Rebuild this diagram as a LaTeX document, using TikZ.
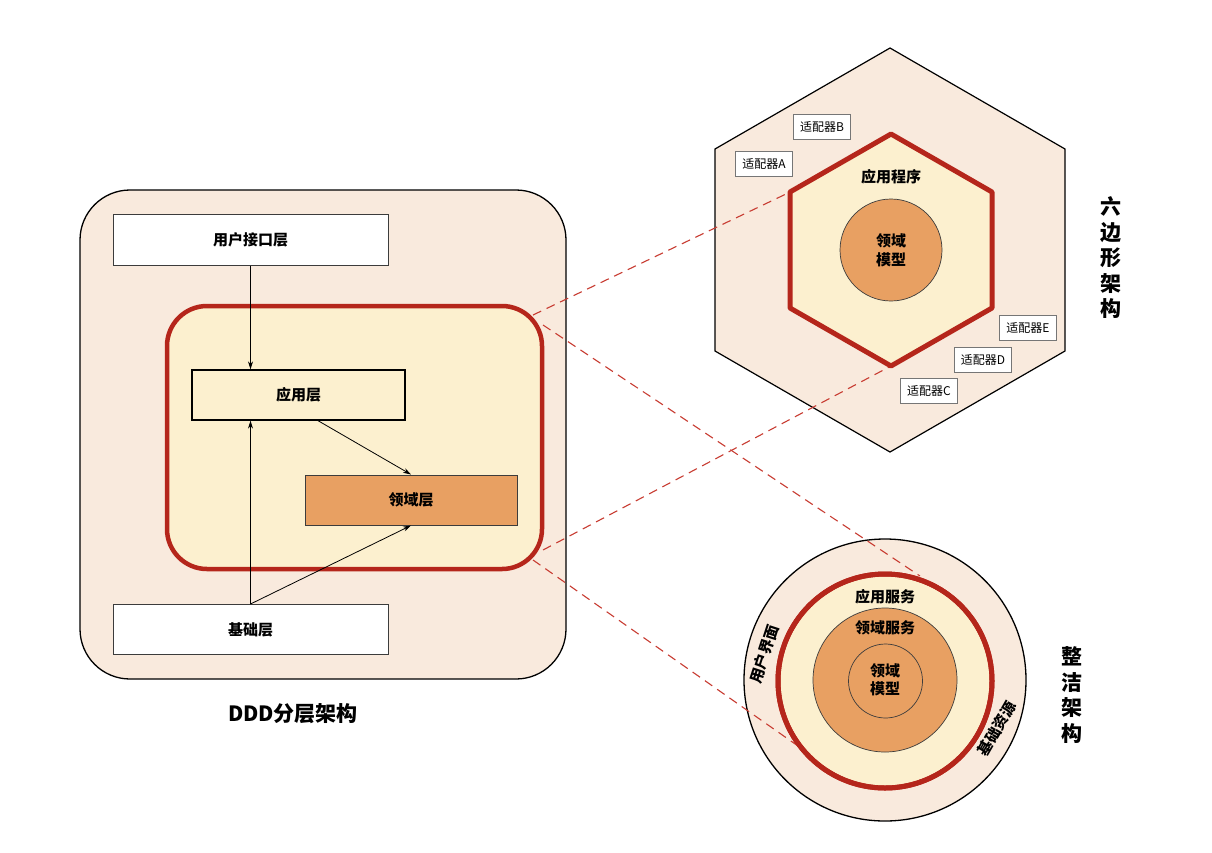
\documentclass[tikz,border=0pt]{standalone}
\usepackage{fontspec}
\setmainfont{Noto Sans CJK SC}
\usetikzlibrary{arrows.meta}
\definecolor{peach}{RGB}{249,234,221}
\definecolor{cream}{RGB}{252,240,207}
\definecolor{orng}{RGB}{232,160,98}
\definecolor{dred}{RGB}{181,38,27}
\definecolor{dash}{RGB}{200,60,50}
\definecolor{bord}{RGB}{60,60,60}
\tikzset{
  lbl/.style={font=\fontsize{15}{18}\selectfont\bfseries, inner sep=0pt},
  layer/.style={draw=bord, line width=1pt, minimum width=275pt, minimum height=51pt, lbl},
  adapter/.style={draw=bord!70, line width=0.8pt, fill=white, minimum width=57pt, minimum height=25pt, inner sep=0pt, font=\fontsize{12}{14}\selectfont},
  arr/.style={draw=black, line width=0.8pt, -{Stealth[length=8pt,width=5pt]}},
  dashline/.style={draw=dash, line width=1.1pt, dash pattern=on 9pt off 6pt},
  vtitle/.style={font=\fontsize{21}{25.5}\selectfont\bfseries, align=center, inner sep=0pt},
}
\begin{document}
\begin{tikzpicture}[x=1pt,y=-1pt]
\useasboundingbox (0,0) rectangle (1212,852);
\fill[white] (0,0) rectangle (1212,852);

% ---------- Left: DDD layered ----------
\node[draw=black, line width=1.3pt, fill=peach, rounded corners=50pt, minimum width=486pt, minimum height=489pt] (outer) at (323,434.5) {};
\node[layer, fill=white] (ui) at (250.5,239.5) {用户接口层};
\node[draw=dred, line width=4.5pt, fill=cream, rounded corners=40pt, minimum width=375pt, minimum height=263pt] (core) at (354.5,437.5) {};
\node[layer, fill=cream, minimum width=213pt, minimum height=50pt, draw=black, line width=1.3pt] (app) at (298.5,395) {应用层};
\node[layer, fill=orng, minimum width=212pt, minimum height=50pt] (dom) at (411,500) {领域层};
\node[layer, fill=white, minimum height=50pt] (base) at (250.5,629.5) {基础层};
\node[font=\fontsize{21}{24}\selectfont\bfseries, inner sep=0pt] (t1) at (293,714) {DDD分层架构};

\draw[arr] (ui.south) -- (ui.south |- app.north);
\draw[arr] (base.north) -- (base.north |- app.south);
\draw[arr] ([xshift=19.5pt]app.south) -- (dom.north);
\draw[arr] (base.north) -- (dom.south);

% ---------- Hexagonal ----------
\coordinate (h1) at (890,48);
\coordinate (h2) at (715,149);
\coordinate (h3) at (715,351);
\coordinate (h4) at (890,452);
\coordinate (h5) at (1065,351);
\coordinate (h6) at (1065,149);
\draw[fill=peach, draw=black, line width=1.2pt, line join=miter] (h1) -- (h2) -- (h3) -- (h4) -- (h5) -- (h6) -- cycle;
\coordinate (i1) at (891,134);
\coordinate (i2) at (790,192);
\coordinate (i3) at (790,308);
\coordinate (i4) at (891,366);
\coordinate (i5) at (992,308);
\coordinate (i6) at (992,192);
\node[adapter] (adB) at (822,127) {适配器B};
\node[adapter] (adA) at (764,164) {适配器A};
\node[adapter] (adE) at (1028,328) {适配器E};
\node[adapter] (adD) at (983,360) {适配器D};
\node[adapter] (adC) at (929,391) {适配器C};
\node[vtitle] (t2) at (1111,258) {六\\边\\形\\架\\构};

% ---------- Clean architecture ----------
\node[circle, draw=black, line width=1.3pt, fill=peach, minimum size=282pt, inner sep=0pt] (c1) at (885,680) {};
\node[circle, draw=dred, line width=5pt, fill=cream, minimum size=214pt, inner sep=0pt] (c2) at (885,681) {};
\node[circle, draw=bord, line width=0.7pt, fill=orng, minimum size=144pt, inner sep=0pt] (c3) at (885,680) {};
\node[circle, draw=bord, line width=0.7pt, minimum size=74pt, inner sep=0pt] (c4) at (885.5,681) {};
\node[lbl] (cl1) at (885,597) {应用服务};
\node[lbl] (cl2) at (885,628) {领域服务};
\node[lbl, align=center, font=\fontsize{15}{18.5}\selectfont\bfseries] (cl3) at (885,680) {领域\\模型};
\node[lbl, rotate=72] (cl4) at (764,654) {用户界面};
\node[lbl, rotate=60] (cl5) at (997,729) {基础资源};
\node[vtitle] (t3) at (1072,695) {整\\洁\\架\\构};

% ---------- dashed connectors ----------
\coordinate (d1s) at (533,315);
\coordinate (d3s) at (543,325);
\coordinate (d2s) at (543,550);
\coordinate (d4s) at (533,560);
\coordinate (d3e) at (920,576);
\coordinate (d4e) at (798,746);
\coordinate (d1e) at (786,194);
\draw[dashline] (d1s) -- (d1e);
\draw[dashline] (d2s) -- (i4);
\draw[dashline] (d3s) -- (d3e);
\draw[dashline] (d4s) -- (d4e);

% inner hexagon on top of the dashed lines
\draw[fill=cream, draw=dred, line width=5pt, line join=round] (i1) -- (i2) -- (i3) -- (i4) -- (i5) -- (i6) -- cycle;
\node[circle, draw=bord, line width=0.7pt, fill=orng, minimum size=102pt, inner sep=0pt] (hm) at (891,250) {};
\node[lbl, align=center, font=\fontsize{15}{19}\selectfont\bfseries] (hml) at (891,250) {领域\\模型};
\node[lbl] (app2) at (891,177) {应用程序};
% redraw red circle stroke over dashed end
\draw[dred, line width=5pt] (c2.center) circle[radius=107pt];
\end{tikzpicture}
\end{document}
